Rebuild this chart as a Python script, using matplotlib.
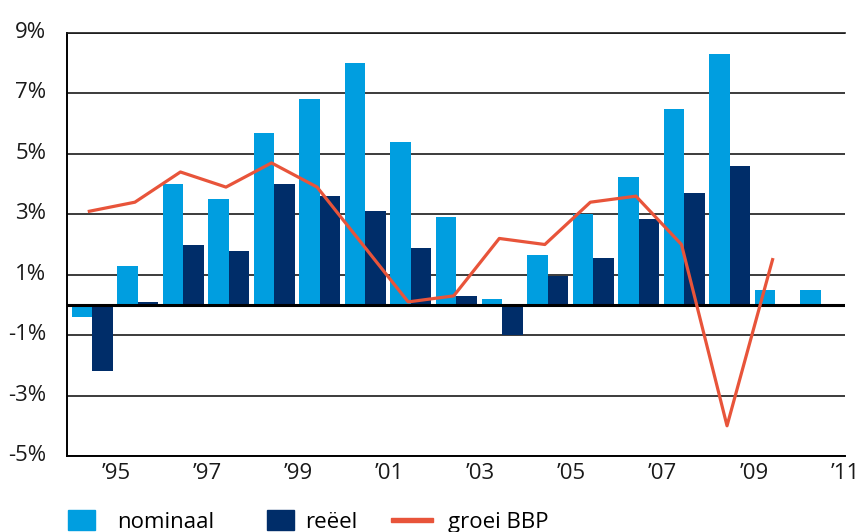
import numpy as np
import matplotlib
matplotlib.use("Agg")
import matplotlib.pyplot as plt
import matplotlib.patches as mpatches
from matplotlib.legend_handler import HandlerPatch
import matplotlib.transforms as mtransforms

plt.rcParams['font.family'] = ['Open Sans', 'DejaVu Sans']

# ---- data ----
years = [1995, 1996, 1997, 1998, 1999, 2000, 2001, 2002, 2003,
         2004, 2005, 2006, 2007, 2008, 2009, 2010, 2011]
nominaal = [-0.4, 1.3, 4.0, 3.5, 5.7, 6.8, 8.0, 5.4, 2.9,
            0.2, 1.65, 3.0, 4.25, 6.5, 8.3, 0.5, 0.5]
reeel = [-2.2, 0.1, 2.0, 1.8, 4.0, 3.6, 3.1, 1.9, 0.3,
         -1.0, 0.95, 1.55, 2.85, 3.7, 4.6, np.nan, np.nan]
groei_bbp = [3.1, 3.4, 4.4, 3.9, 4.7, 3.9, 2.0, 0.1, 0.3,
             2.2, 2.0, 3.4, 3.6, 2.0, -4.0, 1.5, np.nan]

tick_years = [1995, 1997, 1999, 2001, 2003, 2005, 2007, 2009, 2011]
tick_labels = ["\u2019" + str(y)[2:] for y in tick_years]
y_ticks = [9, 7, 5, 3, 1, -1, -3, -5]

C_NOM = "#009ee0"
C_REEL = "#002d69"
C_BBP = "#e8543a"
FS = 16

fig = plt.figure(figsize=(8.66, 5.32), dpi=100)
ax = fig.add_axes([67/866, 76/532, 778/866, 423/532])

x = np.array(years, dtype=float)
w = 0.45
ax.bar(x - w/2, nominaal, width=w, color=C_NOM, zorder=2)
ax.bar(x + w/2, reeel, width=w, color=C_REEL, zorder=2)
ax.axhline(0, color="black", lw=2.2, zorder=2.5)
ax.plot(x - 0.06, groei_bbp, color=C_BBP, lw=2.3, zorder=3)

ax.set_xlim(1994.45, 2011.48)
ax.set_ylim(-5, 9)
ax.set_yticks(y_ticks)
ax.set_yticklabels([f"{v}%" for v in y_ticks])
ax.set_xticks([t + 0.53 for t in tick_years])
ax.set_xticklabels(tick_labels)
ax.tick_params(axis="both", length=0, labelsize=FS, labelcolor="#1a1a1a")
ax.tick_params(axis="y", pad=15)
ax.tick_params(axis="x", pad=5)
# shift y labels up a bit
for lab in ax.get_yticklabels():
    lab.set_transform(lab.get_transform() + mtransforms.ScaledTranslation(0, 3/100, fig.dpi_scale_trans))

ax.set_axisbelow(True)
ax.yaxis.grid(True, color="#1a1a1a", lw=1.2)
ax.spines["right"].set_visible(False)
ax.spines["top"].set_color("#1a1a1a")
ax.spines["top"].set_linewidth(1.2)
ax.spines["left"].set_linewidth(1.4)
ax.spines["bottom"].set_linewidth(1.4)


# legend handles: squares / short line, placed inside a 42px handle box
def make_handler(x0, x1, h=None):
    def fn(legend, orig_handle, xdescent, ydescent, width, height, fontsize):
        hh = height if h is None else h * 0.72
        y0 = -ydescent + (height - hh) / 2
        return mpatches.Rectangle((-xdescent + x0 / 42 * width, y0),
                                  (x1 - x0) / 42 * width, hh)
    return HandlerPatch(patch_func=fn)


h_nom = mpatches.Patch(color=C_NOM)
h_reel = mpatches.Patch(color=C_REEL)
h_bbp = mpatches.Patch(color=C_BBP)
fig.legend([h_nom, h_reel, h_bbp], ["nominaal", "re\u00ebel", "groei BBP"],
           loc="upper left", bbox_to_anchor=(68/866, 1 - 510/532),
           ncol=3, frameon=False, fontsize=FS, borderpad=0, borderaxespad=0,
           handlelength=42 * 0.72 / FS, handleheight=1.0,
           handletextpad=7 * 0.72 / FS, columnspacing=42 * 0.72 / FS,
           handler_map={h_nom: make_handler(0, 27),
                        h_reel: make_handler(11, 38),
                        h_bbp: make_handler(-8, 34, h=3.2)})

fig.savefig("out.png", dpi=100)
